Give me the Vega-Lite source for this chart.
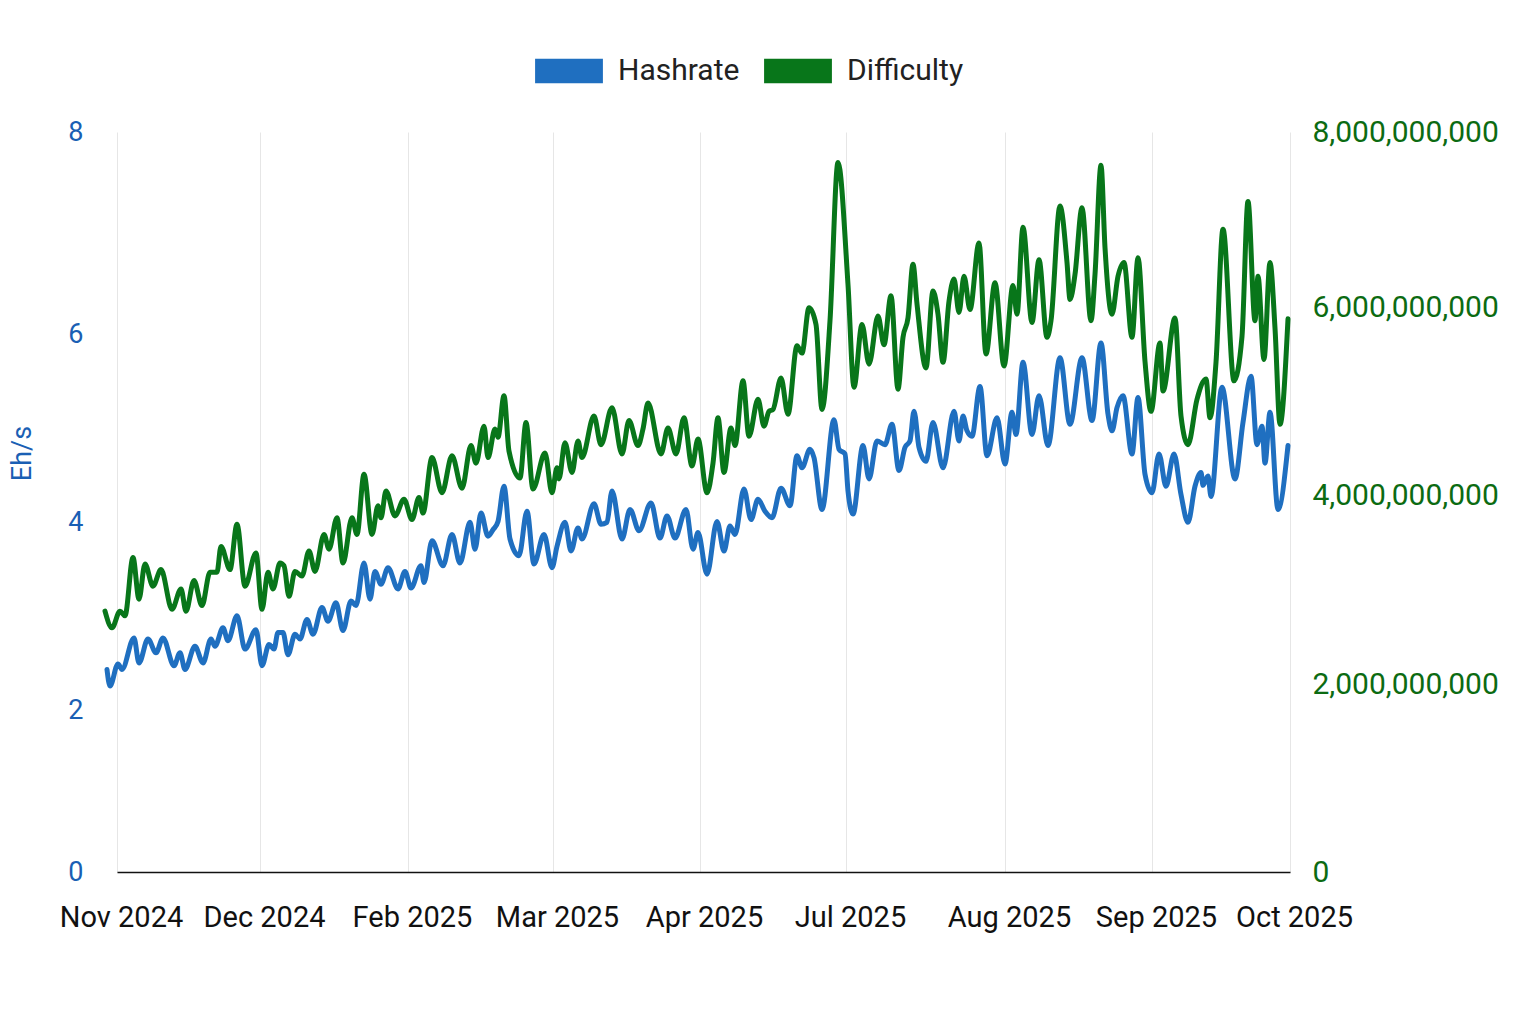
{
  "$schema": "https://vega.github.io/schema/vega-lite/v6.json",
  "description": "Hashrate (Eh/s) and mining difficulty, Nov 2024 - Oct 2025",
  "width": 1173,
  "height": 740,
  "padding": {"left": 8, "top": 37, "right": 10, "bottom": 10},
  "datasets": {
    "hashrate": [
      {"step": 2, "value": 2.19}, {"step": 5, "value": 2.01}, {"step": 13, "value": 2.25}, {"step": 17, "value": 2.19},
      {"step": 29, "value": 2.53}, {"step": 34, "value": 2.26}, {"step": 43, "value": 2.52}, {"step": 51, "value": 2.37},
      {"step": 58, "value": 2.53}, {"step": 69, "value": 2.23}, {"step": 75, "value": 2.37}, {"step": 80, "value": 2.19},
      {"step": 90, "value": 2.44}, {"step": 98, "value": 2.26}, {"step": 106, "value": 2.52}, {"step": 110, "value": 2.44},
      {"step": 118, "value": 2.64}, {"step": 123, "value": 2.5}, {"step": 132, "value": 2.77}, {"step": 140, "value": 2.41},
      {"step": 151, "value": 2.62}, {"step": 157, "value": 2.23}, {"step": 164, "value": 2.46}, {"step": 169, "value": 2.41},
      {"step": 173, "value": 2.59}, {"step": 178, "value": 2.59}, {"step": 183, "value": 2.35}, {"step": 190, "value": 2.57},
      {"step": 195, "value": 2.52}, {"step": 202, "value": 2.73}, {"step": 208, "value": 2.57}, {"step": 217, "value": 2.86},
      {"step": 223, "value": 2.71}, {"step": 231, "value": 2.91}, {"step": 238, "value": 2.61}, {"step": 246, "value": 2.93},
      {"step": 251, "value": 2.88}, {"step": 259, "value": 3.34}, {"step": 265, "value": 2.95}, {"step": 270, "value": 3.25},
      {"step": 276, "value": 3.11}, {"step": 283, "value": 3.29}, {"step": 293, "value": 3.06}, {"step": 300, "value": 3.25},
      {"step": 306, "value": 3.07}, {"step": 316, "value": 3.31}, {"step": 319, "value": 3.13}, {"step": 327, "value": 3.58},
      {"step": 338, "value": 3.31}, {"step": 347, "value": 3.65}, {"step": 355, "value": 3.34}, {"step": 365, "value": 3.78},
      {"step": 370, "value": 3.49}, {"step": 376, "value": 3.88}, {"step": 383, "value": 3.63}, {"step": 388, "value": 3.7},
      {"step": 393, "value": 3.79}, {"step": 399, "value": 4.17}, {"step": 405, "value": 3.6}, {"step": 414, "value": 3.42},
      {"step": 422, "value": 3.9}, {"step": 429, "value": 3.33}, {"step": 439, "value": 3.65}, {"step": 447, "value": 3.29},
      {"step": 452, "value": 3.52}, {"step": 460, "value": 3.78}, {"step": 466, "value": 3.47}, {"step": 473, "value": 3.72},
      {"step": 477, "value": 3.6}, {"step": 489, "value": 3.98}, {"step": 496, "value": 3.76}, {"step": 502, "value": 3.78},
      {"step": 507, "value": 4.12}, {"step": 517, "value": 3.6}, {"step": 525, "value": 3.92}, {"step": 534, "value": 3.69},
      {"step": 546, "value": 3.99}, {"step": 555, "value": 3.61}, {"step": 562, "value": 3.85}, {"step": 570, "value": 3.61},
      {"step": 581, "value": 3.92}, {"step": 588, "value": 3.49}, {"step": 593, "value": 3.67}, {"step": 602, "value": 3.22},
      {"step": 612, "value": 3.79}, {"step": 619, "value": 3.47}, {"step": 625, "value": 3.74}, {"step": 630, "value": 3.65},
      {"step": 639, "value": 4.14}, {"step": 646, "value": 3.81}, {"step": 653, "value": 4.03}, {"step": 660, "value": 3.9},
      {"step": 667, "value": 3.83}, {"step": 676, "value": 4.15}, {"step": 685, "value": 3.96}, {"step": 692, "value": 4.5},
      {"step": 697, "value": 4.37}, {"step": 705, "value": 4.57}, {"step": 709, "value": 4.48}, {"step": 717, "value": 3.92},
      {"step": 729, "value": 4.89}, {"step": 734, "value": 4.57}, {"step": 740, "value": 4.52}, {"step": 743, "value": 4.12},
      {"step": 748, "value": 3.87}, {"step": 758, "value": 4.61}, {"step": 764, "value": 4.25}, {"step": 772, "value": 4.66},
      {"step": 780, "value": 4.62}, {"step": 787, "value": 4.84}, {"step": 794, "value": 4.34}, {"step": 800, "value": 4.59},
      {"step": 805, "value": 4.66}, {"step": 809, "value": 4.98}, {"step": 814, "value": 4.59}, {"step": 821, "value": 4.44},
      {"step": 828, "value": 4.86}, {"step": 838, "value": 4.37}, {"step": 849, "value": 4.98}, {"step": 854, "value": 4.66},
      {"step": 858, "value": 4.93}, {"step": 862, "value": 4.77}, {"step": 867, "value": 4.71}, {"step": 875, "value": 5.25},
      {"step": 882, "value": 4.5}, {"step": 892, "value": 4.91}, {"step": 900, "value": 4.41}, {"step": 907, "value": 4.97},
      {"step": 911, "value": 4.73}, {"step": 918, "value": 5.51}, {"step": 927, "value": 4.73}, {"step": 934, "value": 5.15},
      {"step": 943, "value": 4.61}, {"step": 955, "value": 5.56}, {"step": 965, "value": 4.84}, {"step": 977, "value": 5.56},
      {"step": 987, "value": 4.88}, {"step": 996, "value": 5.72}, {"step": 1003, "value": 4.95}, {"step": 1007, "value": 4.77},
      {"step": 1012, "value": 5.02}, {"step": 1018, "value": 5.15}, {"step": 1027, "value": 4.52}, {"step": 1033, "value": 5.13},
      {"step": 1040, "value": 4.3}, {"step": 1047, "value": 4.1}, {"step": 1054, "value": 4.52}, {"step": 1061, "value": 4.17},
      {"step": 1069, "value": 4.52}, {"step": 1076, "value": 4.08}, {"step": 1083, "value": 3.78}, {"step": 1090, "value": 4.17},
      {"step": 1096, "value": 4.32}, {"step": 1098, "value": 4.18}, {"step": 1103, "value": 4.28}, {"step": 1106, "value": 4.06},
      {"step": 1117, "value": 5.24}, {"step": 1130, "value": 4.25}, {"step": 1138, "value": 4.86}, {"step": 1146, "value": 5.36},
      {"step": 1152, "value": 4.62}, {"step": 1157, "value": 4.82}, {"step": 1160, "value": 4.42}, {"step": 1165, "value": 4.97},
      {"step": 1173, "value": 3.92}, {"step": 1183, "value": 4.61}
    ],
    "difficulty": [
      {"step": 0, "value": 2820000000}, {"step": 7, "value": 2640000000}, {"step": 15, "value": 2820000000}, {"step": 20, "value": 2770000000},
      {"step": 28, "value": 3400000000}, {"step": 34, "value": 2950000000}, {"step": 40, "value": 3330000000}, {"step": 48, "value": 3090000000},
      {"step": 56, "value": 3270000000}, {"step": 67, "value": 2840000000}, {"step": 76, "value": 3060000000}, {"step": 81, "value": 2820000000},
      {"step": 89, "value": 3150000000}, {"step": 97, "value": 2880000000}, {"step": 105, "value": 3240000000}, {"step": 112, "value": 3240000000},
      {"step": 116, "value": 3520000000}, {"step": 125, "value": 3270000000}, {"step": 132, "value": 3760000000}, {"step": 140, "value": 3090000000},
      {"step": 151, "value": 3450000000}, {"step": 157, "value": 2840000000}, {"step": 163, "value": 3240000000}, {"step": 168, "value": 3060000000},
      {"step": 175, "value": 3340000000}, {"step": 179, "value": 3310000000}, {"step": 184, "value": 2980000000}, {"step": 190, "value": 3250000000},
      {"step": 197, "value": 3200000000}, {"step": 204, "value": 3470000000}, {"step": 210, "value": 3250000000}, {"step": 219, "value": 3650000000},
      {"step": 224, "value": 3490000000}, {"step": 232, "value": 3830000000}, {"step": 238, "value": 3340000000}, {"step": 247, "value": 3830000000},
      {"step": 252, "value": 3650000000}, {"step": 259, "value": 4300000000}, {"step": 267, "value": 3650000000}, {"step": 273, "value": 3960000000},
      {"step": 276, "value": 3830000000}, {"step": 281, "value": 4120000000}, {"step": 290, "value": 3850000000}, {"step": 299, "value": 4030000000},
      {"step": 307, "value": 3810000000}, {"step": 314, "value": 4050000000}, {"step": 318, "value": 3880000000}, {"step": 327, "value": 4480000000},
      {"step": 337, "value": 4100000000}, {"step": 347, "value": 4500000000}, {"step": 357, "value": 4150000000}, {"step": 366, "value": 4610000000},
      {"step": 371, "value": 4420000000}, {"step": 379, "value": 4820000000}, {"step": 383, "value": 4480000000}, {"step": 390, "value": 4790000000},
      {"step": 393, "value": 4700000000}, {"step": 399, "value": 5150000000}, {"step": 404, "value": 4550000000}, {"step": 415, "value": 4260000000},
      {"step": 421, "value": 4860000000}, {"step": 428, "value": 4140000000}, {"step": 440, "value": 4530000000}, {"step": 447, "value": 4100000000},
      {"step": 452, "value": 4370000000}, {"step": 454, "value": 4250000000}, {"step": 460, "value": 4640000000}, {"step": 467, "value": 4320000000},
      {"step": 473, "value": 4660000000}, {"step": 477, "value": 4480000000}, {"step": 489, "value": 4930000000}, {"step": 496, "value": 4620000000},
      {"step": 507, "value": 5020000000}, {"step": 517, "value": 4520000000}, {"step": 524, "value": 4880000000}, {"step": 533, "value": 4610000000},
      {"step": 538, "value": 4790000000}, {"step": 543, "value": 5070000000}, {"step": 556, "value": 4520000000}, {"step": 563, "value": 4800000000},
      {"step": 571, "value": 4520000000}, {"step": 579, "value": 4910000000}, {"step": 587, "value": 4390000000}, {"step": 593, "value": 4680000000},
      {"step": 602, "value": 4100000000}, {"step": 608, "value": 4420000000}, {"step": 613, "value": 4910000000}, {"step": 619, "value": 4320000000},
      {"step": 626, "value": 4800000000}, {"step": 630, "value": 4610000000}, {"step": 638, "value": 5310000000}, {"step": 644, "value": 4710000000},
      {"step": 653, "value": 5110000000}, {"step": 659, "value": 4820000000}, {"step": 664, "value": 4980000000}, {"step": 668, "value": 5000000000},
      {"step": 676, "value": 5340000000}, {"step": 683, "value": 4950000000}, {"step": 692, "value": 5690000000}, {"step": 697, "value": 5610000000},
      {"step": 704, "value": 6100000000}, {"step": 711, "value": 5920000000}, {"step": 717, "value": 5000000000}, {"step": 725, "value": 5960000000},
      {"step": 733, "value": 7670000000}, {"step": 743, "value": 6350000000}, {"step": 749, "value": 5240000000}, {"step": 757, "value": 5920000000},
      {"step": 764, "value": 5490000000}, {"step": 773, "value": 6010000000}, {"step": 779, "value": 5700000000}, {"step": 786, "value": 6230000000},
      {"step": 793, "value": 5220000000}, {"step": 798, "value": 5780000000}, {"step": 803, "value": 5990000000}, {"step": 808, "value": 6570000000},
      {"step": 812, "value": 6140000000}, {"step": 821, "value": 5450000000}, {"step": 828, "value": 6280000000}, {"step": 833, "value": 6030000000},
      {"step": 838, "value": 5510000000}, {"step": 844, "value": 6170000000}, {"step": 849, "value": 6410000000}, {"step": 854, "value": 6050000000},
      {"step": 859, "value": 6440000000}, {"step": 865, "value": 6080000000}, {"step": 874, "value": 6800000000}, {"step": 881, "value": 5600000000},
      {"step": 890, "value": 6370000000}, {"step": 899, "value": 5470000000}, {"step": 908, "value": 6340000000}, {"step": 912, "value": 6030000000},
      {"step": 918, "value": 6970000000}, {"step": 927, "value": 5940000000}, {"step": 934, "value": 6620000000}, {"step": 942, "value": 5780000000},
      {"step": 946, "value": 5960000000}, {"step": 955, "value": 7200000000}, {"step": 962, "value": 6590000000}, {"step": 965, "value": 6190000000},
      {"step": 970, "value": 6460000000}, {"step": 977, "value": 7180000000}, {"step": 986, "value": 5960000000}, {"step": 990, "value": 6460000000},
      {"step": 996, "value": 7640000000}, {"step": 1000, "value": 6750000000}, {"step": 1007, "value": 6030000000}, {"step": 1013, "value": 6440000000},
      {"step": 1019, "value": 6590000000}, {"step": 1027, "value": 5780000000}, {"step": 1033, "value": 6640000000}, {"step": 1040, "value": 5520000000},
      {"step": 1046, "value": 4980000000}, {"step": 1055, "value": 5720000000}, {"step": 1058, "value": 5200000000}, {"step": 1070, "value": 5990000000},
      {"step": 1076, "value": 4930000000}, {"step": 1083, "value": 4620000000}, {"step": 1092, "value": 5110000000}, {"step": 1101, "value": 5330000000},
      {"step": 1105, "value": 4910000000}, {"step": 1111, "value": 5510000000}, {"step": 1118, "value": 6950000000}, {"step": 1129, "value": 5310000000},
      {"step": 1137, "value": 5790000000}, {"step": 1143, "value": 7250000000}, {"step": 1150, "value": 5960000000}, {"step": 1153, "value": 6440000000},
      {"step": 1159, "value": 5540000000}, {"step": 1165, "value": 6590000000}, {"step": 1170, "value": 5880000000}, {"step": 1175, "value": 4840000000},
      {"step": 1183, "value": 5980000000}
    ]
  },
  "encoding": {
    "x": {
      "field": "step",
      "type": "quantitative",
      "scale": {"domain": [12, 1185], "nice": false, "zero": false},
      "axis": {
        "title": null,
        "values": [12, 155, 303, 448, 595, 741, 900, 1047, 1185],
        "labelExpr": "datum.value == 12 ? 'Nov 2024' : datum.value == 155 ? 'Dec 2024' : datum.value == 303 ? 'Feb 2025' : datum.value == 448 ? 'Mar 2025' : datum.value == 595 ? 'Apr 2025' : datum.value == 741 ? 'Jul 2025' : datum.value == 900 ? 'Aug 2025' : datum.value == 1047 ? 'Sep 2025' : 'Oct 2025'",
        "grid": true,
        "gridColor": "#e6e6e6",
        "gridWidth": 1,
        "ticks": false,
        "domainColor": "#111111",
        "domainWidth": 1.5,
        "labelFontSize": 29,
        "labelColor": "#111111",
        "labelPadding": 31,
        "labelOffset": 4,
        "labelOverlap": false,
        "labelFlush": false
      }
    },
    "color": {
      "field": "series",
      "type": "nominal",
      "scale": {"domain": ["Hashrate", "Difficulty"], "range": ["#1f6fc0", "#08761a"]},
      "legend": {
        "title": null,
        "orient": "none",
        "legendX": 418,
        "legendY": -95,
        "direction": "horizontal",
        "symbolType": "M-1,-0.36L1,-0.36L1,0.36L-1,0.36Z",
        "symbolSize": 4600,
        "symbolStrokeWidth": 0,
        "labelFontSize": 30,
        "labelColor": "#222222",
        "labelOffset": 15,
        "columnPadding": 24,
        "encode": {"symbols": {"update": {"fill": {"scale": "color", "field": "value"}, "fillOpacity": {"value": 1}}}}
      }
    }
  },
  "layer": [
    {
      "data": {"name": "hashrate"},
      "transform": [{"calculate": "'Hashrate'", "as": "series"}],
      "mark": {"type": "line", "strokeWidth": 5, "interpolate": "monotone", "strokeJoin": "round", "strokeCap": "round", "clip": false},
      "encoding": {
        "y": {
          "field": "value",
          "type": "quantitative",
          "scale": {"domain": [0, 8], "nice": false},
          "axis": {
            "orient": "left",
            "values": [0, 2, 4, 6, 8],
            "title": "Eh/s",
            "titleColor": "#1a5fb4",
            "titleFontSize": 27,
            "titleFontWeight": "normal",
            "titlePadding": 31,
            "titleY": 321,
            "grid": false,
            "domain": false,
            "ticks": false,
            "labelColor": "#1a5fb4",
            "labelFontSize": 27,
            "labelPadding": 34,
            "labelOffset": {
              "condition": [
                {"test": "datum.value == 2", "value": 23},
                {"test": "datum.value == 4", "value": 20},
                {"test": "datum.value == 6", "value": 17}
              ],
              "value": 0
            }
          }
        }
      }
    },
    {
      "data": {"name": "difficulty"},
      "transform": [{"calculate": "'Difficulty'", "as": "series"}],
      "mark": {"type": "line", "strokeWidth": 5, "interpolate": "monotone", "strokeJoin": "round", "strokeCap": "round", "clip": false},
      "encoding": {
        "y": {
          "field": "value",
          "type": "quantitative",
          "scale": {"domain": [0, 8000000000], "nice": false},
          "axis": {
            "orient": "right",
            "values": [0, 2000000000, 4000000000, 6000000000, 8000000000],
            "format": ",d",
            "title": null,
            "grid": false,
            "domain": false,
            "ticks": false,
            "labelColor": "#0c6b12",
            "labelFontSize": 30,
            "labelPadding": 22,
            "labelLimit": 0,
            "labelOffset": {
              "condition": [
                {"test": "datum.value == 2000000000", "value": -3},
                {"test": "datum.value == 4000000000", "value": -7},
                {"test": "datum.value == 6000000000", "value": -10}
              ],
              "value": 0
            }
          }
        }
      }
    }
  ],
  "resolve": {"scale": {"y": "independent"}},
  "config": {
    "font": "Roboto",
    "view": {"stroke": null},
    "background": "#ffffff"
  }
}
